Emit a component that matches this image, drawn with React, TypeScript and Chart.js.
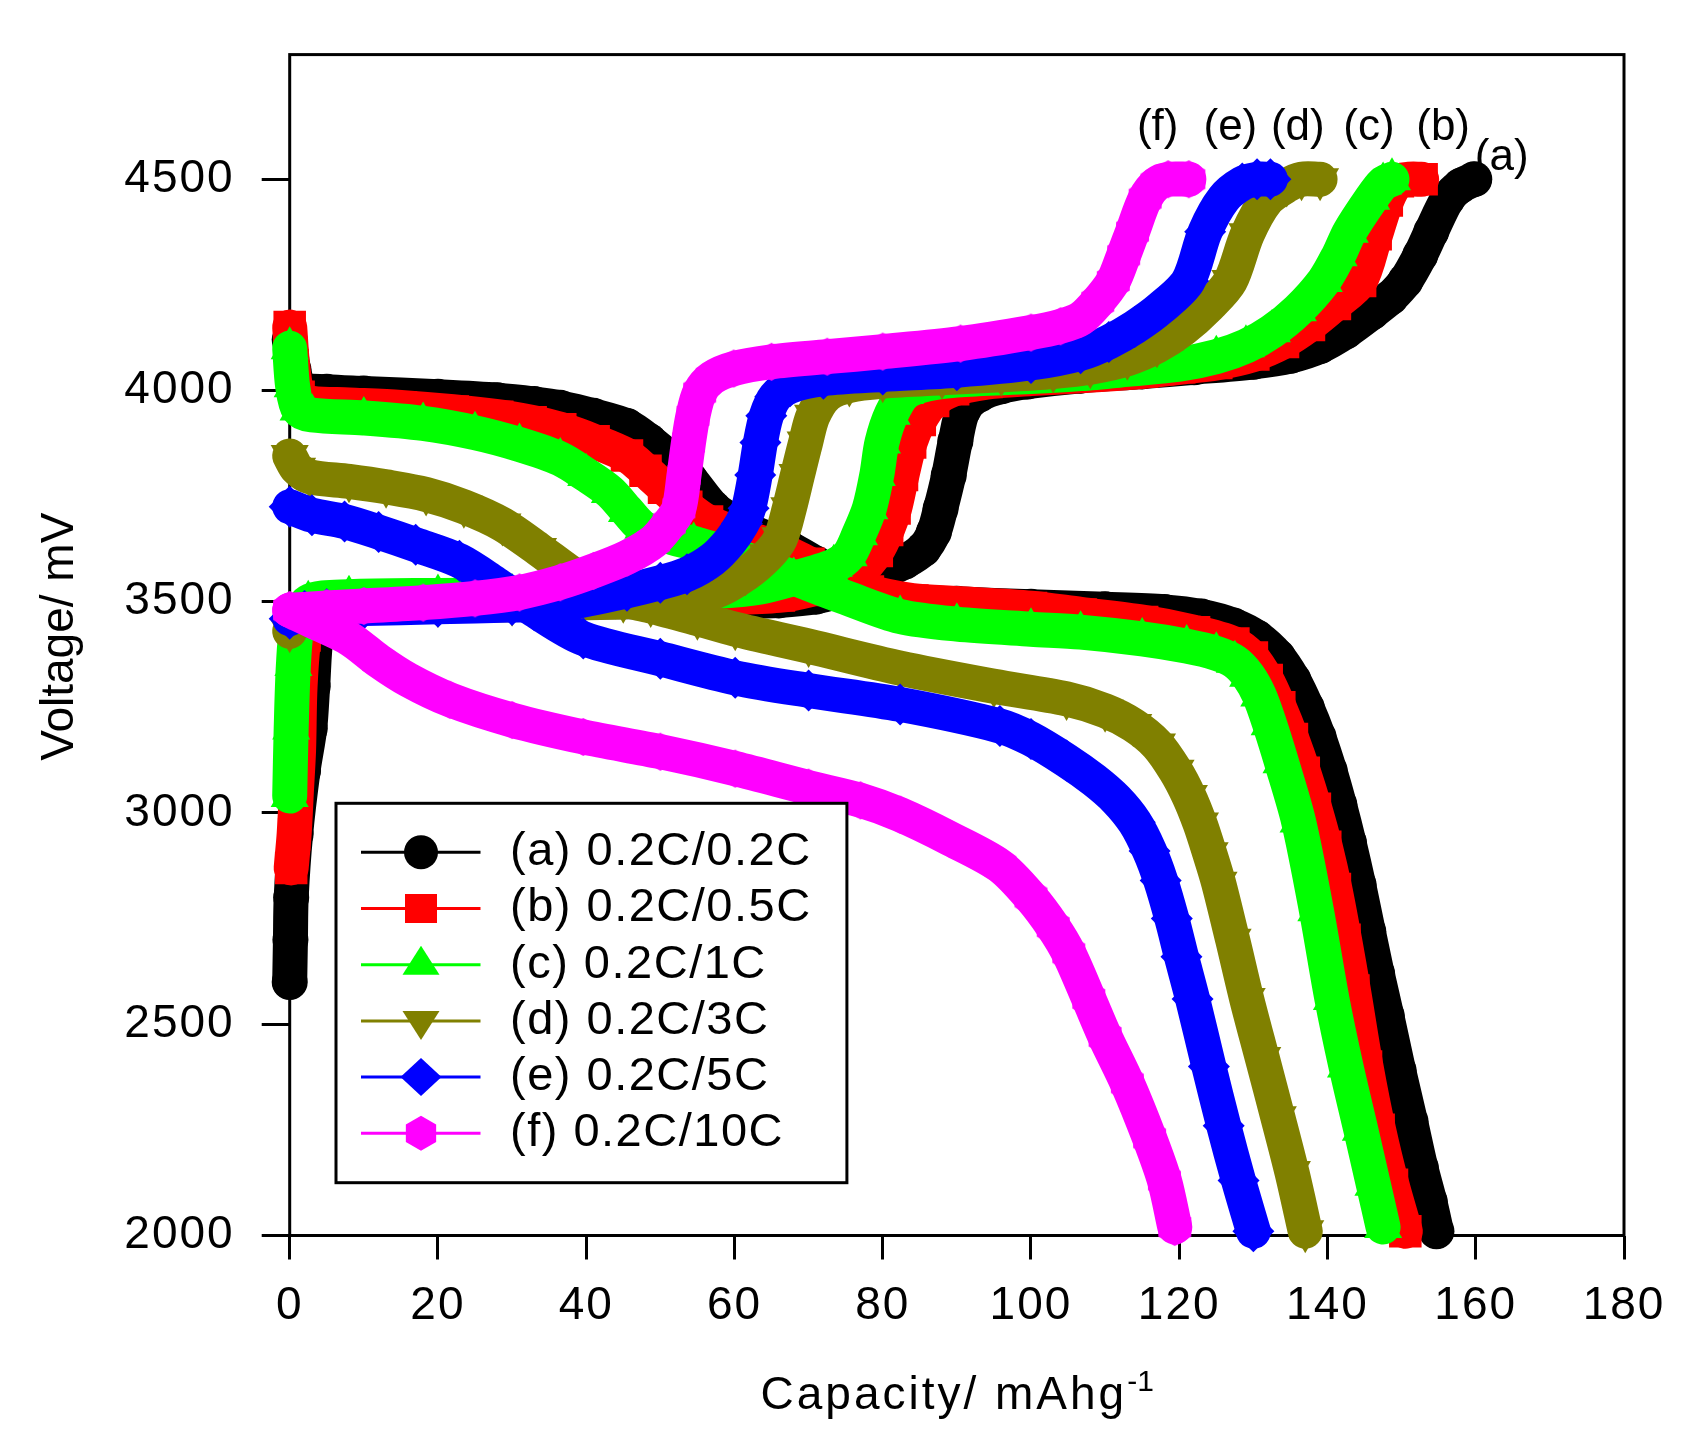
import { useEffect, useRef } from "react";
import { Chart, registerables } from "chart.js";

Chart.register(...registerables);

const W = 1699;
const H = 1451;
const FONT = "'Liberation Sans', Arial, Helvetica, sans-serif";

// axis ticks
const xTicks = [0, 20, 40, 60, 80, 100, 120, 140, 160, 180];
const yTicks = [2000, 2500, 3000, 3500, 4000, 4500];

const legendLabels = [
  "(a) 0.2C/0.2C",
  "(b) 0.2C/0.5C",
  "(c) 0.2C/1C",
  "(d) 0.2C/3C",
  "(e) 0.2C/5C",
  "(f) 0.2C/10C",
];
const curveTags = ["(a)", "(b)", "(c)", "(d)", "(e)", "(f)"];
// where the tags sit, in capacity / voltage units
const tagX = [163.5, 155.6, 145.6, 136, 126.9, 117.1];
const tagY = [4521, 4593, 4593, 4593, 4593, 4593];

// [capacity mAh/g, voltage mV]
const chargeA = [
  [0, 2600], [0.1, 2700], [0.2, 2800], [0.8, 2950], [1.8, 3100], [2.7, 3200], [3.1, 3300],
  [3.6, 3420], [5, 3492], [10, 3498], [20, 3500], [30, 3500], [40, 3500], [50, 3500],
  [60, 3501], [66, 3503], [71, 3512], [75.5, 3535], [79.7, 3568], [83, 3595], [85.5, 3625],
  [86.9, 3665], [87.8, 3720], [88.9, 3799], [89.8, 3880], [90.9, 3955], [93, 3990], [96, 4010],
  [99.5, 4021], [106.7, 4035], [115, 4045], [122, 4055], [130, 4068], [135, 4082], [139, 4105],
  [142.5, 4140], [146, 4185], [148.5, 4220], [150.5, 4259], [152.5, 4320], [154, 4376],
  [156.2, 4454], [158, 4485], [159.8, 4500],
];
const dischargeA = [
  [0, 4120], [0.5, 4050], [1.5, 4005], [5, 3997], [10, 3993], [20, 3985], [28, 3977],
  [33, 3968], [36.5, 3959], [41, 3940], [45.5, 3916], [48.5, 3880], [51.3, 3838], [54, 3790],
  [57.2, 3721], [60, 3688], [64, 3652], [67.5, 3625], [71, 3590], [74, 3556], [77, 3527],
  [82, 3502], [90, 3495], [100, 3488], [110, 3482], [118, 3476], [123, 3465], [127.3, 3444],
  [130.5, 3415], [133.3, 3370], [135.4, 3315], [137.2, 3250], [138.8, 3180], [140.3, 3100],
  [141.6, 3020], [142.9, 2930], [144.2, 2830], [145.5, 2720], [146.7, 2620], [148, 2520],
  [149.6, 2390], [151.2, 2270], [152.6, 2160], [153.8, 2080], [154.7, 2010],
];

const chargeB = [
  [0.2, 2870], [0.6, 2950], [0.9, 3050], [1.2, 3150], [1.4, 3300], [2, 3420], [3.5, 3495],
  [8, 3505], [20, 3507], [30, 3508], [40, 3508], [50, 3509], [60, 3510], [66, 3515],
  [70, 3528], [73.5, 3548], [77, 3575], [79.2, 3620], [80.6, 3670], [81.6, 3721], [82.6, 3800],
  [83.7, 3877], [85, 3930], [86.8, 3975], [89.5, 4003], [94, 4020], [100, 4028], [106.7, 4035],
  [115, 4045], [120, 4055], [125, 4065], [130, 4085], [134, 4115], [137.5, 4155], [141, 4205],
  [144.4, 4259], [146.5, 4370], [148, 4450], [149.5, 4495], [151, 4500], [152.7, 4500],
];
const dischargeB = [
  [0, 4150], [0.4, 4060], [1.2, 3985], [3, 3970], [8, 3966], [15, 3960], [22, 3950],
  [28, 3938], [32.5, 3925], [36.5, 3908], [41, 3880], [45.5, 3846], [48, 3810], [50.5, 3770],
  [53.5, 3725], [56.3, 3690], [61, 3655], [65.7, 3627], [70, 3590], [74, 3553], [78, 3524],
  [84, 3503], [90, 3496], [100, 3485], [106.7, 3470], [115, 3452], [122, 3428], [127.3, 3401],
  [129.8, 3368], [131.8, 3315], [133.5, 3250], [135.2, 3175], [136.8, 3095], [138.3, 3010],
  [139.7, 2920], [141, 2820], [142.3, 2700], [143.5, 2580], [145.2, 2400], [146.9, 2250],
  [148.7, 2120], [150.5, 2010],
];

const chargeC = [
  [0, 3040], [0.2, 3200], [0.5, 3350], [1, 3440], [2.5, 3500], [8, 3512], [20, 3515],
  [30, 3516], [40, 3517], [50, 3519], [58, 3525], [63.5, 3535], [68, 3555], [73.4, 3585],
  [75.4, 3610], [76.8, 3660], [78.2, 3721], [79.2, 3800], [79.9, 3877], [81.2, 3945], [83, 3994],
  [86, 4015], [90, 4025], [100, 4033], [106.7, 4040], [113, 4050], [120, 4062], [125, 4080],
  [129, 4105], [132.5, 4140], [136, 4190], [139.5, 4259], [141.5, 4320], [143, 4376],
  [145.9, 4454], [147.5, 4490], [148.7, 4500],
];
const dischargeC = [
  [0, 4100], [0.4, 4010], [1.2, 3955], [3, 3942], [10, 3935], [18, 3922], [25, 3900],
  [31, 3872], [36.5, 3838], [40, 3800], [43.2, 3760], [45.5, 3715], [47.7, 3675], [51, 3655],
  [54.5, 3638], [60, 3610], [65, 3578], [70, 3543], [75, 3510], [82.35, 3465], [90, 3447],
  [100, 3435], [106.7, 3428], [115, 3412], [121, 3395], [125, 3378], [127.5, 3358],
  [129.3, 3325], [130.8, 3278], [132.2, 3210], [133.8, 3120], [136.1, 2980], [138.5, 2770],
  [140.6, 2560], [142.5, 2400], [144.5, 2250], [146.2, 2120], [147.5, 2020],
];

const chargeD = [
  [0, 3430], [1, 3465], [3, 3480], [10, 3486], [20, 3490], [30, 3493], [36.5, 3496],
  [45, 3500], [50, 3505], [57.6, 3526], [61.5, 3565], [64.5, 3610], [66.2, 3650], [67.4, 3721],
  [68.5, 3800], [69.6, 3877], [70.6, 3940], [72.5, 3990], [75.5, 4012], [80, 4022], [88, 4030],
  [96, 4037], [103, 4045], [108, 4055], [113, 4075], [117, 4105], [120.5, 4145], [124, 4200],
  [126.9, 4259], [129.2, 4370], [131.8, 4450], [134.5, 4485], [136.5, 4500], [139, 4500],
];
const dischargeD = [
  [0, 3845], [1, 3815], [2.7, 3796], [8, 3785], [13, 3772], [18.4, 3754], [23.5, 3725],
  [28.7, 3683], [33.5, 3625], [38.7, 3559], [44, 3510], [48.7, 3490], [55, 3460], [60.1, 3435],
  [70, 3395], [82.35, 3343], [95, 3300], [104.8, 3270], [110, 3242], [113.8, 3208],
  [117, 3162], [119.5, 3100], [121.3, 3040], [122.8, 2975], [124.1, 2905], [125.3, 2835],
  [127.2, 2700], [129.1, 2560], [131.2, 2420], [133.3, 2280], [135.2, 2150], [137, 2010],
];

const chargeE = [
  [0, 3460], [2, 3478], [5, 3482], [10, 3484], [20, 3488], [30, 3492], [36.5, 3495],
  [45.5, 3526], [50, 3545], [53.6, 3565], [57, 3600], [59.4, 3643], [61, 3685], [61.9, 3721],
  [62.8, 3800], [63.5, 3877], [64.3, 3940], [65.5, 3985], [67.5, 4010], [72, 4028], [80, 4038],
  [90, 4048], [100, 4065], [106.7, 4088], [110.5, 4115], [114, 4150], [117.5, 4195],
  [121.2, 4259], [123.5, 4376], [126, 4454], [128.5, 4490], [130.5, 4500], [132.3, 4500],
];
const dischargeE = [
  [0, 3725], [3, 3705], [7.4, 3690], [12, 3665], [17, 3635], [22.9, 3597], [28, 3540],
  [33, 3480], [39.6, 3413], [50, 3365], [60.1, 3320], [70, 3290], [82.35, 3257], [95.8, 3206],
  [100, 3175], [104.8, 3124], [108.5, 3078], [111.5, 3032], [114, 2978], [116, 2910],
  [117.5, 2840], [119, 2750], [120.3, 2660], [121.8, 2560], [124, 2400], [126, 2260],
  [128, 2130], [130, 2010],
];

const chargeF = [
  [0, 3480], [5, 3485], [10, 3490], [18, 3498], [25, 3508], [31, 3522], [36.5, 3546],
  [41, 3573], [45.5, 3605], [49.1, 3643], [51.2, 3685], [52.5, 3721], [53.2, 3800],
  [53.8, 3877], [54.4, 3940], [55.3, 3995], [57, 4030], [59.9, 4052], [65, 4068], [72.5, 4080],
  [80, 4092], [90.5, 4111], [100, 4137], [104, 4152], [106.7, 4170], [109, 4210], [111.1, 4259],
  [112.5, 4320], [113.7, 4376], [115.4, 4454], [117, 4490], [118.5, 4500], [121.3, 4500],
];
const dischargeF = [
  [0, 3480], [3, 3455], [8.1, 3412], [12, 3360], [16, 3315], [21.6, 3268], [30, 3220],
  [39.6, 3180], [50, 3145], [60.1, 3105], [70, 3060], [77, 3030], [82.35, 2996], [89, 2940],
  [95.8, 2875], [100, 2800], [103, 2730], [105.1, 2668], [107.8, 2560], [110, 2470],
  [113, 2360], [116, 2230], [118, 2130], [119.4, 2020],
];

type Marker = "circle" | "rect" | "triangle" | "triangleDown" | "rectRot" | "hexagon";

const series = [
  { color: "#000000", marker: "circle" as Marker, radius: 18, charge: chargeA, discharge: dischargeA },
  { color: "#ff0000", marker: "rect" as Marker, radius: 23, charge: chargeB, discharge: dischargeB },
  { color: "#00ff00", marker: "triangle" as Marker, radius: 22, charge: chargeC, discharge: dischargeC },
  { color: "#808000", marker: "triangleDown" as Marker, radius: 22, charge: chargeD, discharge: dischargeD },
  { color: "#0000ff", marker: "rectRot" as Marker, radius: 21, charge: chargeE, discharge: dischargeE },
  { color: "#ff00ff", marker: "hexagon" as Marker, radius: 19, charge: chargeF, discharge: dischargeF },
];

function hexagonImage(color: string, r: number) {
  const c = document.createElement("canvas");
  const w = Math.ceil(r * Math.sqrt(3)) + 2;
  const h = Math.ceil(r * 2) + 2;
  c.width = w;
  c.height = h;
  const g = c.getContext("2d")!;
  g.fillStyle = color;
  g.beginPath();
  for (let k = 0; k < 6; k++) {
    const a = -Math.PI / 2 + (k * Math.PI) / 3;
    const px = w / 2 + r * Math.cos(a);
    const py = h / 2 + r * Math.sin(a);
    if (k === 0) g.moveTo(px, py);
    else g.lineTo(px, py);
  }
  g.closePath();
  g.fill();
  return c;
}

// legend sample marker, sizes taken from the legend box
function drawLegendMarker(ctx: CanvasRenderingContext2D, m: Marker, x: number, y: number, color: string) {
  ctx.fillStyle = color;
  ctx.beginPath();
  if (m === "circle") {
    ctx.arc(x, y, 17, 0, Math.PI * 2);
  } else if (m === "rect") {
    ctx.rect(x - 16, y - 14.5, 32, 29);
  } else if (m === "triangle") {
    ctx.moveTo(x, y - 19);
    ctx.lineTo(x + 18.5, y + 10);
    ctx.lineTo(x - 18.5, y + 10);
  } else if (m === "triangleDown") {
    ctx.moveTo(x - 18.5, y - 10);
    ctx.lineTo(x + 18.5, y - 10);
    ctx.lineTo(x, y + 19);
  } else if (m === "rectRot") {
    ctx.moveTo(x, y - 19);
    ctx.lineTo(x + 20.5, y);
    ctx.lineTo(x, y + 19);
    ctx.lineTo(x - 20.5, y);
  } else {
    for (let k = 0; k < 6; k++) {
      const a = -Math.PI / 2 + (k * Math.PI) / 3;
      const px = x + 17.5 * Math.cos(a);
      const py = y + 17.5 * Math.sin(a);
      if (k === 0) ctx.moveTo(px, py);
      else ctx.lineTo(px, py);
    }
  }
  ctx.closePath();
  ctx.fill();
}

export default function App() {
  const ref = useRef<HTMLCanvasElement>(null);

  useEffect(() => {
    if (!ref.current) return;
    const canvas = ref.current;
    canvas.width = W;
    canvas.height = H;

    const hex = hexagonImage("#ff00ff", 19);

    const datasets: any[] = [];
    series.forEach((s, i) => {
      const pointStyle =
        s.marker === "hexagon" ? hex : s.marker === "triangleDown" ? "triangle" : s.marker;
      const common = {
        showLine: true,
        borderColor: s.color,
        backgroundColor: s.color,
        borderWidth: 35,
        borderJoinStyle: "round",
        borderCapStyle: "round",
        tension: 0.3,
        pointStyle,
        pointRotation: s.marker === "triangleDown" ? 180 : 0,
        pointRadius: s.radius,
        pointHoverRadius: s.radius,
        pointBorderWidth: 0,
        pointBackgroundColor: s.color,
        clip: false,
      };
      // lower order is painted later, so (f) ends up on top
      datasets.push({
        ...common,
        label: legendLabels[i] + " discharge",
        order: (5 - i) * 2 + 1,
        data: s.discharge.map(([x, y]) => ({ x, y })),
      });
      datasets.push({
        ...common,
        label: legendLabels[i] + " charge",
        order: (5 - i) * 2,
        data: s.charge.map(([x, y]) => ({ x, y })),
      });
    });

    const spacingPlugin = {
      id: "spacing",
      beforeDraw(chart: Chart) {
        (chart.ctx as any).letterSpacing = "2px";
      },
    };

    const framePlugin = {
      id: "frame",
      beforeDatasetsDraw(chart: Chart) {
        const { ctx, chartArea: a } = chart;
        ctx.save();
        ctx.strokeStyle = "#000";
        ctx.lineWidth = 3;
        ctx.strokeRect(a.left, a.top, a.right - a.left, a.bottom - a.top);
        ctx.restore();
      },
    };

    const textPlugin = {
      id: "texts",
      afterDatasetsDraw(chart: Chart) {
        const ctx = chart.ctx as any;
        const xs = chart.scales.x;
        const ys = chart.scales.y;
        ctx.save();
        ctx.fillStyle = "#000";

        // curve tags above the charge ends
        ctx.letterSpacing = "0px";
        ctx.font = `44px ${FONT}`;
        ctx.textAlign = "center";
        ctx.textBaseline = "alphabetic";
        curveTags.forEach((t, i) => {
          ctx.fillText(t, xs.getPixelForValue(tagX[i]), ys.getPixelForValue(tagY[i]));
        });

        // legend box
        const bx = 336, by = 803.3, bw = 510.9, bh = 379.4;
        ctx.fillStyle = "#fff";
        ctx.fillRect(bx, by, bw, bh);
        ctx.strokeStyle = "#000";
        ctx.lineWidth = 3;
        ctx.strokeRect(bx, by, bw, bh);
        series.forEach((s, i) => {
          const y = 852.3 + i * 56.2;
          ctx.strokeStyle = s.color;
          ctx.lineWidth = 3;
          ctx.beginPath();
          ctx.moveTo(361, y);
          ctx.lineTo(480.5, y);
          ctx.stroke();
          drawLegendMarker(ctx, s.marker, 421, y, s.color);
          ctx.fillStyle = "#000";
          ctx.letterSpacing = "1.5px";
          ctx.font = `47px ${FONT}`;
          ctx.textAlign = "left";
          ctx.textBaseline = "middle";
          ctx.fillText(legendLabels[i], 510, y);
        });

        // axis titles
        ctx.fillStyle = "#000";
        ctx.textBaseline = "alphabetic";
        ctx.textAlign = "left";
        ctx.letterSpacing = "3px";
        ctx.font = `46px ${FONT}`;
        const main = "Capacity/ mAhg";
        ctx.fillText(main, 760.5, 1409);
        const wMain = ctx.measureText(main).width;
        ctx.letterSpacing = "0px";
        ctx.font = `30px ${FONT}`;
        ctx.fillText("-1", 760.5 + wMain, 1391);

        ctx.font = `46px ${FONT}`;
        ctx.translate(73, 636.7);
        ctx.rotate(-Math.PI / 2);
        ctx.textAlign = "center";
        ctx.fillText("Voltage/ mV", 0, 0);
        ctx.restore();
      },
    };

    const chart = new Chart(canvas, {
      type: "scatter",
      data: { datasets },
      options: {
        responsive: false,
        maintainAspectRatio: false,
        animation: false,
        events: [],
        layout: { padding: { left: 0, top: 40.7, right: 75, bottom: 0 } },
        plugins: {
          legend: { display: false },
          tooltip: { enabled: false },
        },
        scales: {
          x: {
            type: "linear",
            min: 0,
            max: 180,
            afterBuildTicks: (s: any) => {
              s.ticks = xTicks.map((v) => ({ value: v }));
            },
            afterFit: (s: any) => {
              s.height = H - 1235.5;
            },
            border: { display: false },
            grid: {
              drawOnChartArea: false,
              drawTicks: true,
              tickLength: 24,
              tickWidth: 3,
              tickColor: "#000",
              color: "#000",
              lineWidth: 3,
            },
            ticks: {
              color: "#000",
              font: { family: FONT, size: 46 },
              padding: 19,
              maxRotation: 0,
              autoSkip: false,
              callback: (v: number | string) => String(v),
            },
          },
          y: {
            type: "linear",
            min: 2000,
            max: 4795,
            afterBuildTicks: (s: any) => {
              s.ticks = yTicks.map((v) => ({ value: v }));
            },
            afterFit: (s: any) => {
              s.width = 289.7;
            },
            border: { display: false },
            grid: {
              drawOnChartArea: false,
              drawTicks: true,
              tickLength: 28,
              tickWidth: 3,
              tickColor: "#000",
              color: "#000",
              lineWidth: 3,
            },
            ticks: {
              color: "#000",
              font: { family: FONT, size: 46 },
              padding: 27,
              autoSkip: false,
              callback: (v: number | string) => String(v),
            },
          },
        },
      },
      plugins: [spacingPlugin, framePlugin, textPlugin],
    } as any);

    return () => {
      chart.destroy();
    };
  }, []);

  return (
    <div
      style={{
        position: "absolute",
        left: 0,
        top: 0,
        width: W,
        height: H,
        background: "#fff",
      }}
    >
      <canvas
        ref={ref}
        role="img"
        aria-label="Charge-discharge curves"
        style={{ display: "block", width: W, height: H }}
      />
    </div>
  );
}
